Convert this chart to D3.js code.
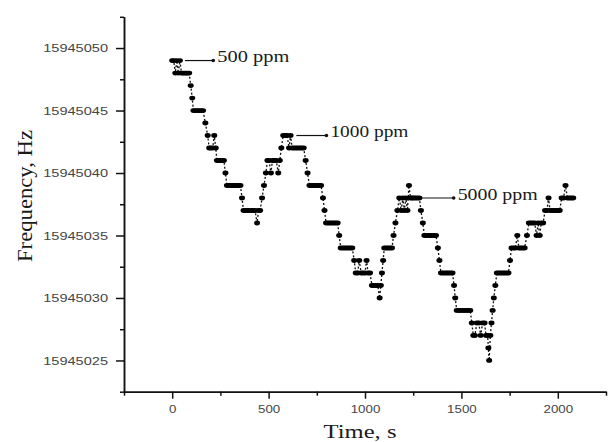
<!DOCTYPE html>
<html>
<head>
<meta charset="utf-8">
<script src="https://cdn.jsdelivr.net/npm/d3@7"></script>
<style>
  html, body { margin: 0; padding: 0; background: #fff; }
  svg { display: block; }
</style>
</head>
<body>
<div id="chart"></div>
<script>
// time (s) and frequency offset readings
const times = [
    0, 8, 16, 24, 32, 40, 48, 56, 64, 72, 80, 88,
    96, 104, 110, 120, 130, 140, 150, 160, 172, 184, 192, 200, 210, 218, 226,
    232, 240, 250, 260, 268, 276, 284, 294, 304, 314, 324, 334, 344, 354,
    362, 370, 380, 390, 400, 410, 420, 430, 440, 448, 456, 466, 476, 486,
    494, 502, 512, 520, 530, 540, 550, 558, 566, 576, 586, 596, 606, 614,
    622, 632, 642, 652, 662, 672, 682, 692, 702, 712, 722, 732, 742, 752,
    762, 772, 782, 790, 798, 808, 818, 828, 838, 848, 858, 866, 874, 884,
    894, 904, 914, 924, 934, 944, 952, 962, 970, 980, 990, 1000, 1008, 1016,
    1026, 1036, 1046, 1056, 1066, 1076, 1082, 1088, 1094, 1100, 1110, 1120,
    1130, 1140, 1148, 1158, 1168, 1178, 1188, 1196, 1204, 1212, 1220, 1228,
    1236, 1244, 1252, 1262, 1272, 1282, 1290, 1300, 1308, 1318, 1328, 1338,
    1348, 1358, 1368, 1378, 1386, 1394, 1404, 1414, 1424, 1434, 1444, 1454,
    1462, 1468, 1476, 1486, 1496, 1506, 1516, 1526, 1536, 1546, 1554, 1562,
    1570, 1580, 1590, 1600, 1610, 1620, 1628, 1636, 1640, 1644, 1650, 1656,
    1662, 1668, 1676, 1684, 1694, 1704, 1714, 1724, 1734, 1744, 1752, 1760,
    1770, 1780, 1790, 1798, 1808, 1818, 1828, 1840, 1850, 1860, 1870, 1880,
    1890, 1898, 1906, 1914, 1924, 1934, 1944, 1952, 1960, 1970, 1980, 1990,
    2000, 2010, 2020, 2030, 2040, 2050, 2060, 2070, 2080
];
const freqOffsets = [
    49, 49, 48, 49, 48, 49, 48, 48, 48, 48, 48, 48,
    47, 46, 45, 45, 45, 45, 45, 45, 44, 43, 42, 42, 42, 43, 42,
    41, 41, 41, 41, 41, 40, 39, 39, 39, 39, 39, 39, 39, 39,
    38, 37, 37, 37, 37, 37, 37, 37, 36, 37, 37, 38, 39, 40,
    41, 41, 40, 41, 41, 41, 40, 41, 42, 43, 43, 43, 42, 43,
    42, 42, 42, 42, 42, 42, 42, 41, 40, 39, 39, 39, 39, 39,
    39, 39, 38, 37, 36, 36, 36, 36, 36, 36, 36, 35, 34, 34,
    34, 34, 34, 34, 34, 33, 32, 32, 33, 32, 32, 32, 33, 32,
    32, 31, 31, 31, 31, 30, 31, 32, 33, 34, 34, 34,
    34, 34, 35, 36, 37, 38, 37, 38, 37, 38, 37, 39,
    38, 38, 38, 38, 38, 38, 37, 36, 35, 35, 35, 35,
    35, 35, 35, 34, 33, 32, 32, 32, 32, 32, 32, 32,
    31, 30, 29, 29, 29, 29, 29, 29, 29, 29, 28, 27,
    27, 28, 28, 27, 28, 28, 27, 27, 26, 25, 27, 28,
    29, 30, 31, 32, 32, 32, 32, 32, 32, 32, 33, 34,
    34, 34, 35, 34, 34, 34, 34, 35, 36, 36, 36, 36,
    35, 36, 35, 36, 36, 37, 37, 38, 37, 37, 37, 37,
    37, 37, 38, 38, 39, 38, 38, 38, 38
];
const baseFreq = 15945000;

const yTicks = [15945025, 15945030, 15945035, 15945040, 15945045, 15945050];
const yMinorTicks = [15945022.5, 15945027.5, 15945032.5, 15945037.5, 15945042.5, 15945047.5, 15945052.5];
const xTicks = [0, 500, 1000, 1500, 2000];
const xMinorTicks = [-250, 250, 750, 1250, 1750, 2250];

// concentration labels: leader start / end time and frequency level
const labelTexts = ["500 ppm", "1000 ppm", "5000 ppm"];
const labelStart = [66, 644, 1295];
const labelEnd = [213, 800, 1460];
const labelFreq = [15945049, 15945043, 15945038];

const width = 608, height = 442;

const svg = d3.select("#chart").append("svg")
    .attr("width", width)
    .attr("height", height);

const x = d3.scaleLinear().domain([-250, 2250]).range([124, 606]);
const y = d3.scaleLinear().domain([15945022.5, 15945052.5]).range([391.7, 16.8]);

// stretch tick text a bit, the original looks widened
function widen(sel, perChar) {
    sel.selectAll("text").each(function () {
        const t = d3.select(this);
        const n = t.text().length;
        t.attr("textLength", n * perChar).attr("lengthAdjust", "spacingAndGlyphs");
    });
}

// y axis
const yAxis = svg.append("g")
    .attr("transform", `translate(${x(-250)},0)`)
    .call(d3.axisLeft(y).tickValues(yTicks).tickFormat(d3.format("d")).tickSize(8).tickSizeOuter(0).tickPadding(8));
yAxis.selectAll("text")
    .attr("font-family", "Liberation Sans, Arial, sans-serif")
    .attr("font-size", 11.5)
    .attr("fill", "#444");
widen(yAxis, 8.1);

svg.append("g")
    .attr("transform", `translate(${x(-250)},0)`)
    .call(d3.axisLeft(y).tickValues(yMinorTicks).tickFormat("").tickSize(4).tickSizeOuter(0));

// x axis
const xAxis = svg.append("g")
    .attr("transform", `translate(0,${y(15945022.5)})`)
    .call(d3.axisBottom(x).tickValues(xTicks).tickFormat(d3.format("d")).tickSize(7).tickSizeOuter(0).tickPadding(6));
xAxis.selectAll("text")
    .attr("font-family", "Liberation Sans, Arial, sans-serif")
    .attr("font-size", 11.5)
    .attr("fill", "#444");
widen(xAxis, 7.4);

svg.append("g")
    .attr("transform", `translate(0,${y(15945022.5)})`)
    .call(d3.axisBottom(x).tickValues(xMinorTicks).tickFormat("").tickSize(4).tickSizeOuter(0));

svg.selectAll(".domain, .tick line")
    .attr("stroke", "#111")
    .attr("stroke-width", 1.5);

// axis titles
svg.append("text")
    .attr("transform", `translate(32,196) rotate(-90)`)
    .attr("text-anchor", "middle")
    .attr("font-family", "Liberation Serif, Times New Roman, serif")
    .attr("font-size", 20)
    .attr("fill", "#1a1a1a")
    .attr("textLength", 132)
    .attr("lengthAdjust", "spacingAndGlyphs")
    .text("Frequency, Hz");

svg.append("text")
    .attr("x", 360)
    .attr("y", 438)
    .attr("text-anchor", "middle")
    .attr("font-family", "Liberation Serif, Times New Roman, serif")
    .attr("font-size", 19)
    .attr("fill", "#1a1a1a")
    .attr("textLength", 73)
    .attr("lengthAdjust", "spacingAndGlyphs")
    .text("Time, s");

// data
const points = times.map((t, i) => ({ t: t, f: baseFreq + freqOffsets[i] }));

const line = d3.line()
    .x(d => x(d.t))
    .y(d => y(d.f));

svg.append("path")
    .datum(points)
    .attr("d", line)
    .attr("fill", "none")
    .attr("stroke", "#111")
    .attr("stroke-width", 1.3)
    .attr("stroke-dasharray", "2,2");

svg.append("g")
    .selectAll("ellipse")
    .data(points)
    .join("ellipse")
    .attr("cx", d => x(d.t))
    .attr("cy", d => y(d.f))
    .attr("rx", 3)
    .attr("ry", 2.4)
    .attr("fill", "#000");

// concentration annotations
const labelWidths = [72, 78, 80];
labelTexts.forEach((txt, i) => {
    const yy = y(labelFreq[i]);
    svg.append("line")
        .attr("x1", x(labelStart[i]))
        .attr("x2", x(labelEnd[i]))
        .attr("y1", yy)
        .attr("y2", yy)
        .attr("stroke", "#111")
        .attr("stroke-width", 1.2);
    svg.append("circle")
        .attr("cx", x(labelEnd[i]))
        .attr("cy", yy)
        .attr("r", 1.8)
        .attr("fill", "#111");
    svg.append("text")
        .attr("x", x(labelEnd[i]) + 4)
        .attr("y", yy + 1.5)
        .attr("font-family", "Liberation Serif, Times New Roman, serif")
        .attr("font-size", 16)
        .attr("fill", "#1a1a1a")
        .attr("textLength", labelWidths[i])
        .attr("lengthAdjust", "spacingAndGlyphs")
        .text(txt);
});
</script>
</body>
</html>
